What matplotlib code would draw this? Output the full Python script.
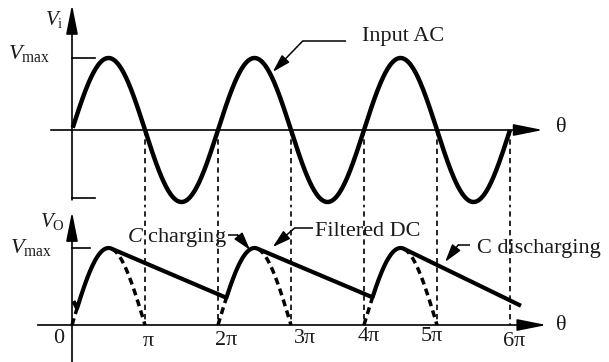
import numpy as np
import matplotlib.pyplot as plt

# angles are in units of pi, voltages are fractions of Vmax
input_end = 6.0
input_amp = 1.0

# half-wave humps and the filtered (capacitor) output
hump_starts = [0.0, 2.0, 4.0]
pickup_angles = [0.07, 2.115, 4.117]      # C starts charging again
departure_angles = [0.55, 2.55, 4.55]     # C stops following the input
discharge_end = (6.15, 0.25)
start_hook_t = [0.02, 0.07]
start_hook_v = [0.31, 0.218]

tick_multiples = [1, 2, 3, 4, 5, 6]
tick_labels = ["π", "2π", "3π", "4π", "5π", "6π"]
tick_label_x = [1.04, 2.11, 3.19, 4.07, 4.93, 6.05]
tick_label_v = [-0.208, -0.195, -0.17, -0.143, -0.143, -0.208]

plt.rcParams["font.family"] = ["Liberation Serif", "DejaVu Serif"]
plt.rcParams["mathtext.fontset"] = "custom"
plt.rcParams["mathtext.rm"] = "Liberation Serif"
plt.rcParams["mathtext.it"] = "Liberation Serif:italic"

ink = "black"
txt = "#1a1a1a"

fig = plt.figure(figsize=(6.09, 3.62), dpi=100)
ax_in = fig.add_axes([0, 157 / 362, 1, 205 / 362])
ax_out = fig.add_axes([0, 0, 1, 157 / 362])
for ax in (ax_in, ax_out):
    ax.set_xlim(-72 / 73, 537 / 73)
    ax.axis("off")
ax_in.set_ylim(-75 / 72, 130 / 72)
ax_out.set_ylim(-37 / 77, 120 / 77)


def axis_arrow(ax, start, tip):
    ax.annotate("", xy=tip, xytext=start,
                arrowprops=dict(arrowstyle="-|>,head_length=1.8,head_width=0.36",
                                lw=1.2, color=ink, shrinkA=0, shrinkB=0,
                                mutation_scale=10))


def leader(ax, points):
    xs, ys = zip(*points)
    ax.plot(xs[:-1], ys[:-1], color=ink, lw=1.1, solid_capstyle="butt")
    ax.annotate("", xy=points[-1], xytext=points[-2],
                arrowprops=dict(arrowstyle="-|>,head_length=1.1,head_width=0.32",
                                lw=1.1, color=ink, shrinkA=0, shrinkB=0,
                                mutation_scale=10))


# ---- input AC ----
axis_arrow(ax_in, (-0.29, 0), (6.45, 0))
axis_arrow(ax_in, (0, -0.97), (0, 1.74))
ax_in.plot([0, 0.31], [1, 1], color=ink, lw=1.2)
ax_in.plot([0, 0.31], [-0.94, -0.94], color=ink, lw=1.2)

t_in = np.linspace(0.01, input_end, 600)
ax_in.plot(t_in, input_amp * np.sin(np.pi * t_in), color=ink, lw=3.2,
           solid_capstyle="butt")

for m in tick_multiples:
    ax_in.plot([m, m], [0, -1.1], color=ink, lw=1.2, ls=(0, (3.2, 2.4)))
    ax_out.plot([m, m], [1.6, 0], color=ink, lw=1.2, ls=(0, (3.2, 2.4)))

ax_in.text(-0.37, 1.458, r"$V_{\mathrm{i}}$", fontsize=15, color=txt,
           ha="left", va="baseline")
ax_in.text(-0.30, 0.98, r"$V_{\mathrm{max}}$", fontsize=16, color=txt,
           ha="right", va="baseline")
ax_in.text(6.70, 0.03, "θ", fontsize=16, color=txt, ha="center", va="center")

leader(ax_in, [(3.75, 1.236), (3.16, 1.236), (2.75, 0.806)])
ax_in.text(3.97, 1.236, "Input AC", fontsize=16, color=txt, ha="left", va="baseline")

# ---- filtered output ----
axis_arrow(ax_out, (-0.47, 0), (6.50, 0))
axis_arrow(ax_out, (0, -0.5), (0, 1.47))
ax_out.plot([0, 0.25], [1, 1], color=ink, lw=1.2)

curve_t = list(start_hook_t)
curve_v = list(start_hook_v)
for i, s in enumerate(hump_starts):
    # charging arc follows the rectified input
    t = np.linspace(pickup_angles[i], departure_angles[i], 60)
    curve_t += list(t)
    curve_v += list(np.sin(np.pi * (t - s)))
    # dashed rectified hump where the capacitor does not follow it
    t_a = np.linspace(s, pickup_angles[i], 10)
    t_b = np.linspace(departure_angles[i], s + 1, 40)
    for seg in (t_a, t_b):
        ax_out.plot(seg, np.sin(np.pi * (seg - s)), color=ink, lw=2.5,
                    ls=(0, (2.0, 1.3)))
curve_t.append(discharge_end[0])
curve_v.append(discharge_end[1])
ax_out.plot(curve_t, curve_v, color=ink, lw=3.0, solid_joinstyle="round",
            solid_capstyle="butt")

for lab, x, v in zip(tick_labels, tick_label_x, tick_label_v):
    ax_out.text(x, v, lab, fontsize=16, color=txt, ha="center", va="center")
ax_out.text(-0.18, -0.18, "0", fontsize=16, color=txt, ha="center", va="center")
ax_out.text(-0.44, 1.27, r"$V_{\mathrm{O}}$", fontsize=15, color=txt,
            ha="left", va="baseline")
ax_out.text(-0.27, 0.935, r"$V_{\mathrm{max}}$", fontsize=16, color=txt,
            ha="right", va="baseline")
ax_out.text(6.70, -0.01, "θ", fontsize=16, color=txt, ha="center", va="center")

leader(ax_out, [(2.14, 1.169), (2.27, 1.169), (2.44, 0.974)])
ax_out.text(0.753, 1.078, r"$C$ charging", fontsize=16, color=txt,
            ha="left", va="baseline")
leader(ax_out, [(3.30, 1.26), (3.05, 1.26), (2.75, 1.013)])
ax_out.text(3.33, 1.156, "Filtered DC", fontsize=16, color=txt,
            ha="left", va="baseline")
leader(ax_out, [(5.45, 1.039), (5.29, 1.039), (5.11, 0.818)])
ax_out.text(5.55, 0.935, "C discharging", fontsize=16, color=txt,
            ha="left", va="baseline")

fig.savefig("out.png", dpi=100)
